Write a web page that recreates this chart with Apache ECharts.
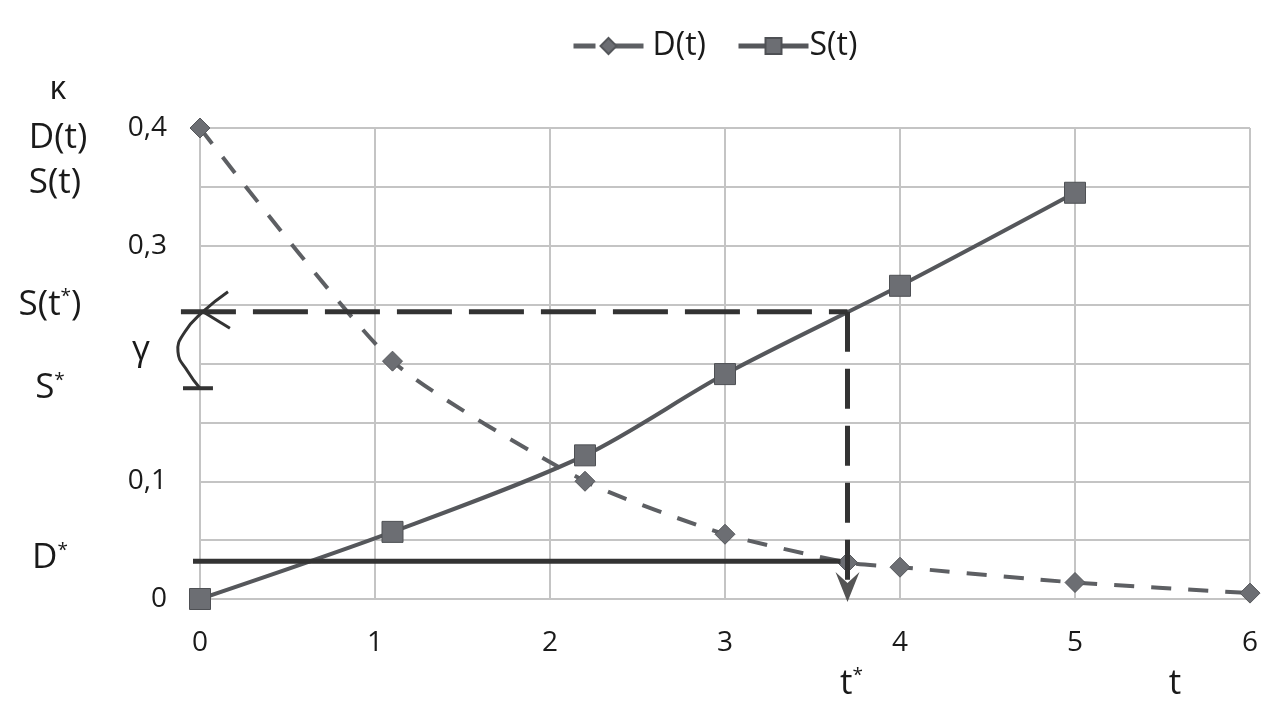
<!DOCTYPE html>
<html>
<head>
<meta charset="utf-8">
<script src="https://cdn.jsdelivr.net/npm/echarts@6/dist/echarts.min.js"></script>
<style>
  html, body { margin: 0; padding: 0; background: #fff; }
  #chart { width: 1284px; height: 717px; }
</style>
</head>
<body>
<div id="chart"></div>
<script>
// D(t) - dashed curve with diamonds
const dT = [0, 1.1, 2.2, 3, 3.7, 4, 5, 6];
const dValues = [0.4, 0.202, 0.1, 0.055, 0.031, 0.027, 0.014, 0.005];

// S(t) - solid curve with squares
const sT = [0, 1.1, 2.2, 3, 4, 5];
const sValues = [0, 0.057, 0.122, 0.191, 0.266, 0.345];

// marked levels
const tStar = 3.7;
const sTStar = 0.244;
const sStar = 0.179;
const dStar = 0.032;

// axis ticks
const xTicks = [0, 1, 2, 3, 4, 5, 6];
const yShown = [0, 0.1, 0.3, 0.4];

// annotation strokes (in data units, some reach left of the axis)
const gammaCurve = [[0, 0.179], [-0.069, 0.193], [-0.126, 0.21], [-0.086, 0.227], [0.017, 0.244], [0.16, 0.261]];
const gammaBarb = [[0.017, 0.244], [0.171, 0.23]];
const gammaTick = [[-0.097, 0.179], [0.074, 0.179]];
const sTStarLine = [[-0.109, sTStar], [tStar, sTStar]];
const tStarDrop = [[tStar, sTStar], [tStar, 0.0102]];
const dStarLine = [[-0.04, dStar], [3.66, dStar]];

const FONT = 'Open Sans';
const INK = '#1a1a1a';
const GRID = '#c4c4c4';

const chart = echarts.init(document.getElementById('chart'));

const zip = (xs, ys) => xs.map((x, i) => [x, ys[i]]);

const option = {
  animation: false,
  backgroundColor: '#fff',
  textStyle: { fontFamily: FONT },
  legend: {
    data: [
      { name: 'D(t)', lineStyle: { type: [22, 10, 40, 0], width: 5 }, textStyle: { padding: [0, 0, 0, 4] } },
      { name: 'S(t)', lineStyle: { width: 5 }, textStyle: { padding: [0, 0, 0, -4] } }
    ],
    top: 25,
    left: 566,
    itemWidth: 70,
    itemHeight: 20,
    itemGap: 30,
    textStyle: { fontSize: 32, color: INK, fontFamily: FONT }
  },
  grid: { left: 200, right: 34, top: 128, bottom: 118 },
  xAxis: {
    type: 'value',
    min: 0,
    max: 6,
    interval: 1,
    axisLine: { lineStyle: { color: GRID, width: 2 } },
    axisTick: { show: false },
    axisLabel: {
      margin: 30,
      fontSize: 28,
      color: INK,
      formatter: v => xTicks.includes(v) ? String(v) : ''
    },
    splitLine: { show: true, lineStyle: { color: GRID, width: 2 } }
  },
  yAxis: {
    type: 'value',
    min: 0,
    max: 0.4,
    interval: 0.05,
    axisLine: { show: true, lineStyle: { color: GRID, width: 2 } },
    axisTick: { show: false },
    axisLabel: {
      margin: 33,
      fontSize: 28,
      color: INK,
      formatter: v => {
        const hit = yShown.find(y => Math.abs(y - v) < 1e-6);
        return hit === undefined ? '' : String(hit).replace('.', ',');
      }
    },
    splitLine: { show: true, lineStyle: { color: GRID, width: 2 } }
  },
  series: [
    {
      name: 'D(t)',
      type: 'line',
      data: zip(dT, dValues),
      smooth: 0.2,
      symbol: 'diamond',
      symbolSize: 20,
      z: 3,
      lineStyle: { color: '#5d5f63', width: 4, type: [20, 17] },
      itemStyle: { color: '#6c6e73', borderColor: '#55575b', borderWidth: 1 }
    },
    {
      name: 'S(t)',
      type: 'line',
      data: zip(sT, sValues),
      smooth: 0.3,
      symbol: 'rect',
      symbolSize: 21,
      z: 5,
      lineStyle: { color: '#55575b', width: 4 },
      itemStyle: { color: '#6c6e73', borderColor: '#4e5054', borderWidth: 1 }
    },
    {
      name: 'tStarDrop',
      type: 'line',
      data: [
        tStarDrop[0],
        {
          value: tStarDrop[1],
          symbol: 'path://M0,0 L12,11 L24,0 L12,30 Z',
          symbolSize: [24, 30],
          symbolKeepAspect: false
        }
      ],
      symbol: 'none',
      showSymbol: true,
      silent: true,
      z: 6,
      itemStyle: { color: '#555' },
      lineStyle: { color: '#333', width: 5, type: [40, 17], cap: 'butt' }
    }
  ]
};

chart.setOption(option);

// annotations and side labels, placed from data values through the grid
const px = (x, y) => chart.convertToPixel({ gridIndex: 0 }, [x, y]);
const stroke = (pts, width, dash, smooth) => ({
  type: 'polyline',
  silent: true,
  z: 10,
  shape: { points: pts.map(p => px(p[0], p[1])), smooth: smooth || 0 },
  style: { stroke: '#333', lineWidth: width, lineDash: dash || null, fill: null }
});
const sup = { sup: { fontSize: 19, verticalAlign: 'top', fill: INK, fontFamily: FONT } };
const label = (text, x, y, size, rich) => ({
  type: 'text',
  x: x,
  y: y,
  silent: true,
  style: {
    text: text,
    fill: INK,
    fontSize: size,
    fontFamily: FONT,
    align: 'center',
    verticalAlign: 'middle',
    textAlign: 'center',
    textVerticalAlign: 'middle',
    rich: rich
  }
});

chart.setOption({
  graphic: [
    stroke(sTStarLine, 5, [55, 17]),
    stroke(dStarLine, 5),
    stroke(gammaCurve, 3, null, 0.5),
    stroke(gammaBarb, 3),
    stroke(gammaTick, 4),
    label('κ', 58, 90, 32),
    label('D(t)', 58, 138, 35),
    label('S(t)', 55, 183, 35),
    label('S(t{sup|*})', 50, px(0, sTStar)[1] - 7, 35, sup),
    label('γ', 141, px(0, (sStar + sTStar) / 2)[1], 35),
    label('S{sup|*}', 50, px(0, sStar)[1], 35, sup),
    label('D{sup|*}', 50, px(0, dStar)[1] - 3, 35, sup),
    label('t{sup|*}', px(tStar, 0)[0] + 4, 684, 35, sup),
    label('t', 1175, 684, 35)
  ]
});
</script>
</body>
</html>
